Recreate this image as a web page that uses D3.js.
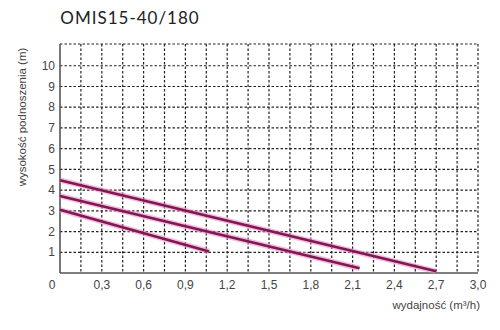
<!DOCTYPE html>
<html>
<head>
<meta charset="utf-8">
<script src="https://cdn.jsdelivr.net/npm/d3@7"></script>
<style>
  body { margin: 0; background: #fff; }
  text { font-family: "Liberation Sans", Arial, sans-serif; fill: #444; }
</style>
</head>
<body>
<svg id="chart"></svg>
<script>
// values
var title = "OMIS15-40/180";
var xTicks = [0.3, 0.6, 0.9, 1.2, 1.5, 1.8, 2.1, 2.4, 2.7, 3.0];
var yTicks = [1, 2, 3, 4, 5, 6, 7, 8, 9, 10];
var curveHigh = [[0, 4.48], [2.7, 0.08]];
var curveMid = [[0, 3.72], [2.15, 0.23]];
var curveLow = [[0, 3.05], [1.07, 1.04]];

(function() {
    var margin = { top: 44, right: 22, bottom: 57, left: 60 },
        width = 500 - margin.left - margin.right,
        height = 330 - margin.top - margin.bottom;

    var root = d3.select("#chart")
        .attr("width", 500)
        .attr("height", 330);

    var svg = root.append("g")
        .attr("transform", `translate(${margin.left}, ${margin.top})`);

    var xScale = d3.scaleLinear().domain([0, 3.0]).range([0, width]);
    var yScale = d3.scaleLinear().domain([0, 11.05]).range([height, 0]);

    // dotted grid: verticals every 0.15, horizontals every 1 (+ top edge)
    var vLines = d3.range(1, 21).map(i => i * 0.15);
    var hLines = d3.range(1, 11).concat([11.05]);

    svg.append("g").selectAll("line")
        .data(vLines)
        .enter().append("line")
        .attr("x1", d => xScale(d)).attr("x2", d => xScale(d))
        .attr("y1", 0).attr("y2", height)
        .attr("stroke", "#222").attr("stroke-width", 1.2)
        .attr("stroke-dasharray", "2.5,2");

    svg.append("g").selectAll("line")
        .data(hLines)
        .enter().append("line")
        .attr("x1", 0).attr("x2", width)
        .attr("y1", d => yScale(d)).attr("y2", d => yScale(d))
        .attr("stroke", "#222").attr("stroke-width", 1.2)
        .attr("stroke-dasharray", "2.5,2");

    // solid axes
    svg.append("line")
        .attr("x1", 0).attr("x2", 0).attr("y1", 0).attr("y2", height)
        .attr("stroke", "#555").attr("stroke-width", 1.6);
    svg.append("line")
        .attr("x1", 0).attr("x2", width).attr("y1", height).attr("y2", height)
        .attr("stroke", "#555").attr("stroke-width", 1.6);

    // tick labels
    svg.append("g").selectAll("text")
        .data(yTicks)
        .enter().append("text")
        .attr("x", -5)
        .attr("y", d => yScale(d))
        .attr("dy", "0.35em")
        .style("text-anchor", "end")
        .style("font-size", "12px")
        .text(d => d);

    svg.append("g").selectAll("text")
        .data(xTicks)
        .enter().append("text")
        .attr("x", d => xScale(d))
        .attr("y", height + 16)
        .style("text-anchor", "middle")
        .style("font-size", "12px")
        .text(d => d.toFixed(1).replace(".", ","));

    svg.append("text")
        .attr("x", -8)
        .attr("y", height + 16)
        .style("text-anchor", "middle")
        .style("font-size", "12px")
        .text("0");

    // axis titles
    svg.append("text")
        .attr("x", width + 2)
        .attr("y", height + 36)
        .style("text-anchor", "end")
        .style("font-size", "11.5px")
        .text("wydajność (m³/h)");

    svg.append("text")
        .attr("transform", "rotate(-90)")
        .attr("x", -73)
        .attr("y", -34)
        .style("text-anchor", "middle")
        .style("font-size", "11.5px")
        .text("wysokość podnoszenia (m)");

    // title
    root.append("text")
        .attr("x", 130)
        .attr("y", 24)
        .style("text-anchor", "middle")
        .style("font-family", "Lato, sans-serif")
        .style("font-size", "17px")
        .style("letter-spacing", "1px")
        .style("fill", "#222")
        .text(title);

    // pump curves
    var line = d3.line().x(d => xScale(d[0])).y(d => yScale(d[1]));
    var curves = [curveHigh, curveMid, curveLow];

    svg.append("g").selectAll("path")
        .data(curves)
        .enter().append("path")
        .attr("d", line)
        .attr("fill", "none")
        .attr("stroke", "#f08ccc")
        .attr("stroke-opacity", 0.6)
        .attr("stroke-width", 5.5);

    svg.append("g").selectAll("path")
        .data(curves)
        .enter().append("path")
        .attr("d", line)
        .attr("fill", "none")
        .attr("stroke", "#7d1a50")
        .attr("stroke-width", 2.6);
})();
</script>
</body>
</html>
